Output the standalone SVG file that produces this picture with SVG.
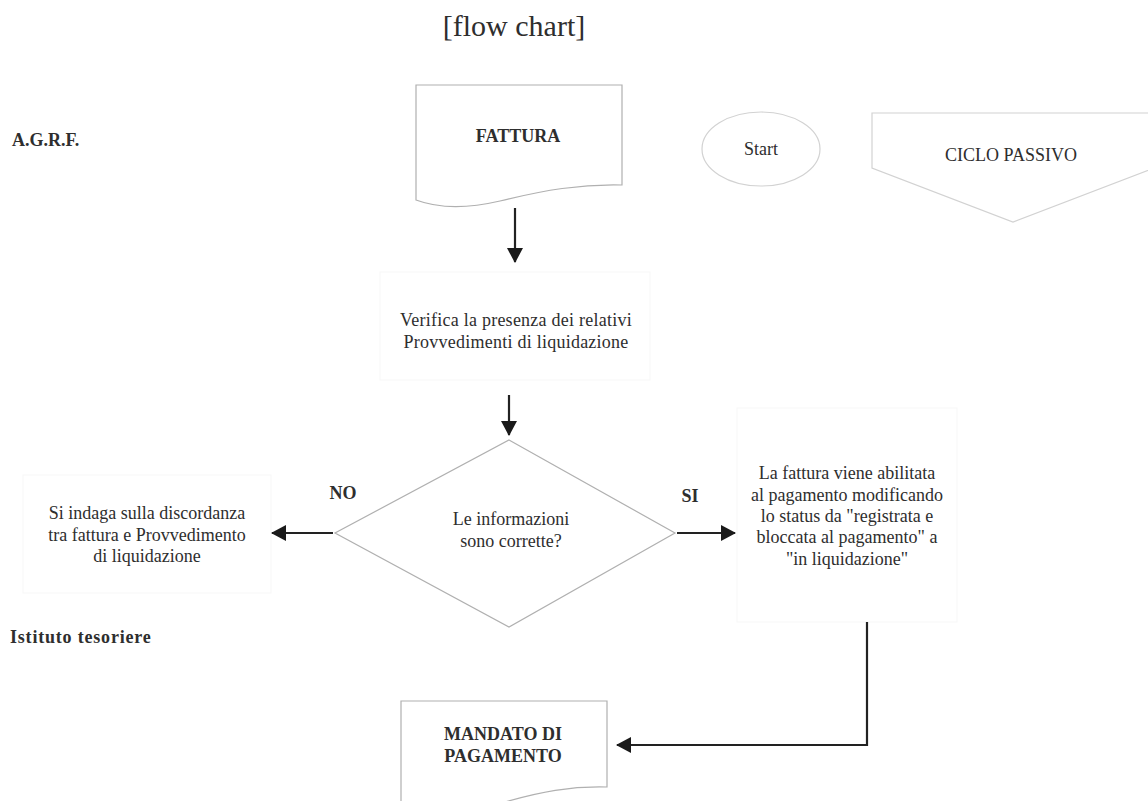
<svg xmlns="http://www.w3.org/2000/svg" width="1148" height="801" viewBox="0 0 1148 801">
  <style>
    text { font-family: "Liberation Serif", "Times New Roman", serif; fill: #2e2e2e; }
    .t { font-size: 18px; text-anchor: middle; }
    .b { font-size: 18px; font-weight: bold; }
    .shape { fill: #ffffff; stroke: #b0b0b0; stroke-width: 1.2; }
    .soft { stroke: #d2d2d2; }
    .faint { fill: none; stroke: #f7f7f7; stroke-width: 1; }
    .conn { fill: none; stroke: #222222; stroke-width: 2.2; }
  </style>
  <defs>
    <marker id="arrow" markerUnits="userSpaceOnUse" markerWidth="18" markerHeight="18" refX="14" refY="8" orient="auto">
      <path d="M0,0 L15,8 L0,16 Z" fill="#1a1a1a"/>
    </marker>
  </defs>

  <rect width="1148" height="801" fill="#ffffff"/>

  <text x="514" y="36" style="font-size:30px;text-anchor:middle">[flow chart]</text>

  <g id="lane-agrf"><text class="b" x="12" y="146">A.G.R.F.</text></g>
  <g id="lane-tesoriere"><text class="b" x="10" y="643" letter-spacing="0.8">Istituto tesoriere</text></g>

  <g id="fattura">
    <path class="shape" d="M416,85 H622 V185 C580,184 545,190 500,201 C470,208 440,209 416,200 Z"/>
    <text class="b" x="518" y="142" text-anchor="middle">FATTURA</text>
  </g>

  <g id="start">
    <ellipse class="shape soft" cx="761" cy="149" rx="59" ry="37"/>
    <text class="t" x="761" y="155">Start</text>
  </g>

  <g id="ciclo-passivo">
    <polygon class="shape soft" points="872,113 1154,113 1154,168 1013,222 872,168"/>
    <text class="t" x="1011" y="161">CICLO PASSIVO</text>
  </g>

  <g id="verifica">
    <rect class="faint" x="380" y="272" width="270" height="108"/>
    <text class="t" x="516" y="326" letter-spacing="0.25">Verifica la presenza dei relativi</text>
    <text class="t" x="516" y="348" letter-spacing="0.25">Provvedimenti di liquidazione</text>
  </g>

  <g id="decisione">
    <polygon class="shape" points="509,440 675,533 509,627 335,533" stroke="#c8c8c8"/>
    <text class="t" x="511" y="525">Le informazioni</text>
    <text class="t" x="511" y="547">sono corrette?</text>
  </g>

  <g id="discordanza">
    <rect class="faint" x="23" y="475" width="248" height="118"/>
    <text class="t" x="147" y="519">Si indaga sulla discordanza</text>
    <text class="t" x="147" y="541">tra fattura e Provvedimento</text>
    <text class="t" x="147" y="562">di liquidazione</text>
  </g>

  <g id="abilitazione">
    <rect class="faint" x="737" y="408" width="220" height="214"/>
    <text class="t" x="847" y="479">La fattura viene abilitata</text>
    <text class="t" x="847" y="501">al pagamento modificando</text>
    <text class="t" x="847" y="522">lo status da "registrata e</text>
    <text class="t" x="847" y="543">bloccata al pagamento" a</text>
    <text class="t" x="847" y="565">"in liquidazione"</text>
  </g>

  <g id="mandato">
    <path class="shape" d="M401,701 H607 V787 C570,786 540,792 505,802 C470,810 430,810 401,803 Z"/>
    <text class="b" x="503" y="740" text-anchor="middle">MANDATO DI</text>
    <text class="b" x="503" y="762" text-anchor="middle">PAGAMENTO</text>
  </g>

  <g id="connectors">
    <line class="conn" x1="515" y1="208" x2="515" y2="262" marker-end="url(#arrow)"/>
    <line class="conn" x1="509" y1="395" x2="509" y2="435" marker-end="url(#arrow)"/>
    <line class="conn" x1="333" y1="533" x2="272" y2="533" marker-end="url(#arrow)"/>
    <line class="conn" x1="677" y1="533" x2="735" y2="533" marker-end="url(#arrow)"/>
    <polyline class="conn" points="867,622 867,745 617,745" marker-end="url(#arrow)"/>
    <text class="b" x="343" y="499" text-anchor="middle">NO</text>
    <text class="b" x="690" y="502" text-anchor="middle">SI</text>
  </g>
</svg>
